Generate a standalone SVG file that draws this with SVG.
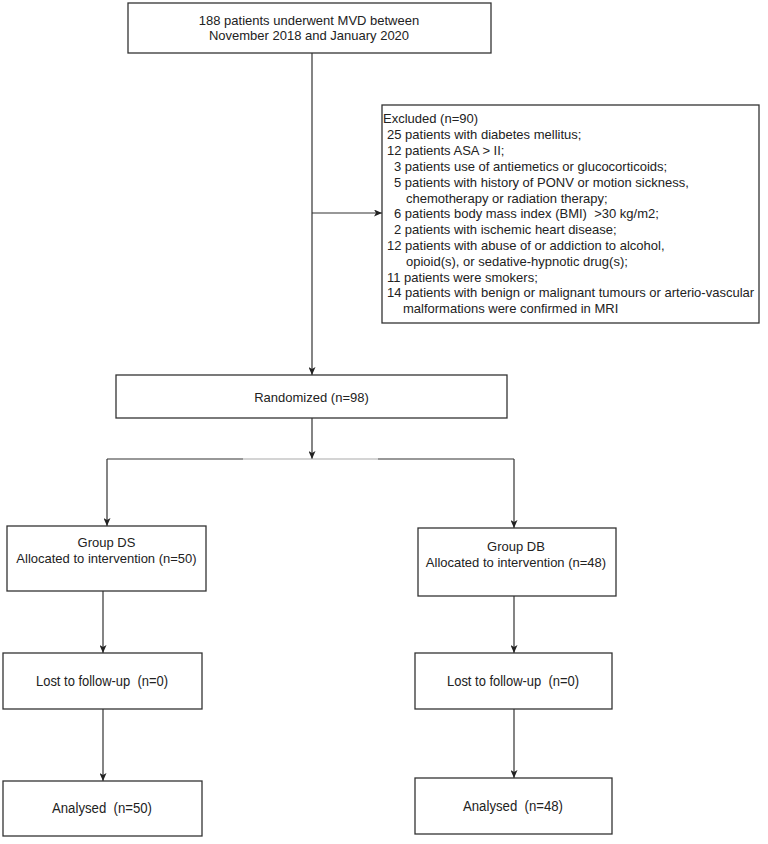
<svg xmlns="http://www.w3.org/2000/svg" width="768" height="844" viewBox="0 0 768 844">
<defs>
<style>
.box{fill:#fff;stroke:#333;stroke-width:1.3}
.t{font-family:"Liberation Sans",Arial,sans-serif;font-size:13px;fill:#222;white-space:pre}
.n{font-size:14px}
.c{text-anchor:middle}
.ln{fill:none;stroke:#333;stroke-width:1.2}
.lg{fill:none;stroke:#aaa;stroke-width:1.2}
</style>
<marker id="ah" viewBox="0 0 8 7" refX="8" refY="3.5" markerWidth="8" markerHeight="7" markerUnits="userSpaceOnUse" orient="auto">
<path d="M0,0 L8,3.5 L0,7 L2,3.5 z" fill="#222"/>
</marker>
</defs>
<rect width="768" height="844" fill="#fff"/>
<g id="connectors">
<line class="ln" x1="312" y1="53" x2="312" y2="375" marker-end="url(#ah)"/>
<line class="ln" x1="312" y1="213" x2="382" y2="213" marker-end="url(#ah)"/>
<line class="ln" x1="312" y1="418" x2="312" y2="459" marker-end="url(#ah)"/>
<line class="ln" x1="107" y1="459" x2="243" y2="459"/>
<line class="lg" x1="243" y1="459" x2="378" y2="459"/>
<line class="ln" x1="378" y1="459" x2="514" y2="459"/>
<line class="ln" x1="107" y1="459" x2="107" y2="526" marker-end="url(#ah)"/>
<line class="ln" x1="514" y1="459" x2="514" y2="528" marker-end="url(#ah)"/>
<line class="ln" x1="103" y1="591" x2="103" y2="653" marker-end="url(#ah)"/>
<line class="ln" x1="103" y1="709" x2="103" y2="781" marker-end="url(#ah)"/>
<line class="ln" x1="514" y1="596" x2="514" y2="653" marker-end="url(#ah)"/>
<line class="ln" x1="514" y1="709" x2="514" y2="778" marker-end="url(#ah)"/>
</g>
<g id="n-start">
<rect class="box" x="128" y="3" width="363" height="50"/>
<text class="t c" x="309" y="25">188 patients underwent MVD between</text>
<text class="t c" x="309" y="40">November 2018 and January 2020</text>
</g>
<g id="n-excluded">
<rect class="box" x="382" y="105" width="377" height="218"/>
<text class="t" x="383" y="123">Excluded (n=90)</text>
<text class="t" x="387" y="139">25 patients with diabetes mellitus;</text>
<text class="t" x="387" y="155">12 patients ASA &gt; II;</text>
<text class="t" x="394" y="171">3 patients use of antiemetics or glucocorticoids;</text>
<text class="t" x="394" y="187">5 patients with history of PONV or motion sickness,</text>
<text class="t" x="406" y="202.5">chemotherapy or radiation therapy;</text>
<text class="t" x="394" y="218">6 patients body mass index (BMI)  &gt;30 kg/m2;</text>
<text class="t" x="394" y="234">2 patients with ischemic heart disease;</text>
<text class="t" x="387" y="250">12 patients with abuse of or addiction to alcohol,</text>
<text class="t" x="406" y="266">opioid(s), or sedative-hypnotic drug(s);</text>
<text class="t" x="387" y="282">11 patients were smokers;</text>
<text class="t" x="387" y="297">14 patients with benign or malignant tumours or arterio-vascular</text>
<text class="t" x="403" y="313">malformations were confirmed in MRI</text>
</g>
<g id="n-randomized">
<rect class="box" x="116" y="375" width="391" height="43"/>
<text class="t c" x="311.5" y="401.5">Randomized (n=98)</text>
</g>
<g id="n-ds">
<rect class="box" x="7" y="526" width="199" height="65"/>
<text class="t c" x="106.5" y="546.5">Group DS</text>
<text class="t c" x="106.5" y="562.5">Allocated to intervention (n=50)</text>
</g>
<g id="n-db">
<rect class="box" x="418" y="528" width="198" height="68"/>
<text class="t c" x="516" y="551">Group DB</text>
<text class="t c" x="516" y="567">Allocated to intervention (n=48)</text>
</g>
<g id="n-lost-ds">
<rect class="box" x="3" y="653" width="199" height="56"/>
<text class="t n c" x="102" y="686" textLength="132" lengthAdjust="spacingAndGlyphs">Lost to follow-up  (n=0)</text>
</g>
<g id="n-lost-db">
<rect class="box" x="415" y="653" width="197" height="56"/>
<text class="t n c" x="513" y="686" textLength="132" lengthAdjust="spacingAndGlyphs">Lost to follow-up  (n=0)</text>
</g>
<g id="n-an-ds">
<rect class="box" x="3" y="781" width="199" height="55"/>
<text class="t n c" x="102" y="813" textLength="100" lengthAdjust="spacingAndGlyphs">Analysed  (n=50)</text>
</g>
<g id="n-an-db">
<rect class="box" x="415" y="778" width="197" height="56"/>
<text class="t n c" x="513" y="811" textLength="100" lengthAdjust="spacingAndGlyphs">Analysed  (n=48)</text>
</g>
</svg>
